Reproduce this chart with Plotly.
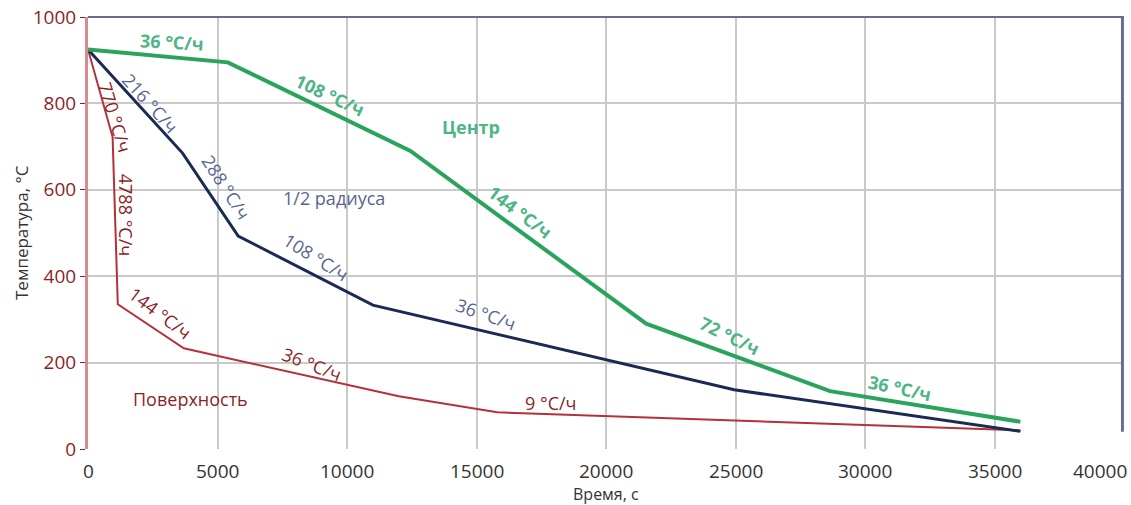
import plotly.graph_objects as go

# Data (time in s, temperature in °C)
center_t = [0, 5400, 12450, 21550, 28650, 36000]
center_T = [925, 895, 690, 290, 134, 63]

half_t = [0, 3650, 5800, 11000, 24950, 36000]
half_T = [925, 685, 493, 333, 137, 41]

surf_t = [0, 950, 1150, 3700, 12000, 15800, 36000]
surf_T = [925, 722, 335, 233, 122, 85, 43]

x_ticks = [0, 5000, 10000, 15000, 20000, 25000, 30000, 35000, 40000]
y_ticks = [0, 200, 400, 600, 800, 1000]

X_TITLE = "Время, с"
Y_TITLE = "Температура, °С"

GREEN_LINE = "#2aa45c"
GREEN_TXT = "#4fb587"
BLUE_LINE = "#1b2a55"
BLUE_TXT = "#56658f"
RED_LINE = "#b3313a"
RED_TXT = "#8c1f26"

fig = go.Figure()
fig.add_trace(go.Scatter(x=surf_t, y=surf_T, mode="lines",
                         line=dict(color=RED_LINE, width=2), name="Поверхность"))
fig.add_trace(go.Scatter(x=half_t, y=half_T, mode="lines",
                         line=dict(color=BLUE_LINE, width=3), name="1/2 радиуса"))
fig.add_trace(go.Scatter(x=center_t, y=center_T, mode="lines",
                         line=dict(color=GREEN_LINE, width=4), name="Центр"))

# Labels: (text, x, y, angle, color, bold)
labels = [
    ("36 °C/ч", 3250, 943, 3, GREEN_TXT, True),
    ("108 °C/ч", 9340, 820, 25, GREEN_TXT, True),
    ("Центр", 14780, 745, 0, GREEN_TXT, True),
    ("144 °C/ч", 16680, 548, 37, GREEN_TXT, True),
    ("72 °C/ч", 24800, 262, 26, GREEN_TXT, True),
    ("36 °C/ч", 31350, 141, 12, GREEN_TXT, True),
    ("216 °C/ч", 2400, 800, 48, BLUE_TXT, False),
    ("288 °C/ч", 5330, 606, 57, BLUE_TXT, False),
    ("1/2 радиуса", 9500, 582, 0, BLUE_TXT, False),
    ("108 °C/ч", 8800, 444, 32, BLUE_TXT, False),
    ("36 °C/ч", 15360, 312, 19, BLUE_TXT, False),
    ("770 °C/ч", 1040, 768, 73, RED_TXT, False),
    ("4788 °C/ч", 1470, 542, 90, RED_TXT, False),
    ("144 °C/ч", 2780, 314, 37, RED_TXT, False),
    ("36 °C/ч", 8650, 197, 21, RED_TXT, False),
    ("Поверхность", 3940, 116, 0, RED_TXT, False),
    ("9 °C/ч", 17880, 106, 0, RED_TXT, False),
]
for text, x, y, ang, col, bold in labels:
    fig.add_annotation(x=x, y=y, xref="x", yref="y", text=f"<b>{text}</b>" if bold else text,
                       showarrow=False, textangle=ang,
                       font=dict(family="Open Sans", size=18, color=col))

# x tick labels (last one kept inside the page, as in the original)
for i, v in enumerate(x_ticks):
    last = i == len(x_ticks) - 1
    fig.add_annotation(x=v, y=0, xref="x", yref="y", text=str(v), showarrow=False,
                       xanchor="right" if last else "center", yanchor="top",
                       yshift=-8, xshift=4 if last else 0, borderpad=0,
                       font=dict(family="Open Sans", size=19, color="#333"))

# axis titles
fig.add_annotation(x=0.5, y=0, xref="paper", yref="paper", text=X_TITLE, showarrow=False,
                   xanchor="center", yanchor="top", yshift=-33, borderpad=0,
                   font=dict(family="Open Sans", size=16, color="#333"))
fig.add_annotation(x=0, y=0.5, xref="paper", yref="paper", text=Y_TITLE, showarrow=False,
                   xanchor="center", yanchor="middle", xshift=-67, textangle=-90,
                   font=dict(family="Open Sans", size=17, color="#333"))

# frame: top and right border lines
fig.add_shape(type="line", xref="paper", yref="paper", x0=0, x1=1, y0=1, y1=1,
              line=dict(color="#6b6b8c", width=2), layer="above")
fig.add_shape(type="line", xref="paper", yref="paper", x0=0.9985, x1=0.9985, y0=1, y1=0.04,
              line=dict(color="#6b6b8c", width=3), layer="above")

fig.update_layout(
    width=1131, height=505,
    margin=dict(l=88, r=7, t=17, b=56),
    paper_bgcolor="white", plot_bgcolor="white",
    showlegend=False,
    font=dict(family="Open Sans", size=18, color="#333"),
    xaxis=dict(range=[0, 40000], tickvals=x_ticks, showticklabels=False,
               showgrid=True, gridcolor="#c9c9c9", gridwidth=2, zeroline=False,
               showline=False, ticks="", automargin=False),
    yaxis=dict(range=[0, 1000], tickvals=y_ticks, ticktext=[str(v) for v in y_ticks],
               showgrid=True, gridcolor="#c9c9c9", gridwidth=2, zeroline=False,
               showline=True, linecolor="#d98a8f", linewidth=3,
               ticks="outside", ticklen=5, tickcolor="#8c1f26",
               tickfont=dict(size=19, color="#8c1f26"), automargin=False,
               ticklabeloverflow="allow"),
)

fig.write_html("out.html", post_script="document.body.style.margin='0';",
               config={"displayModeBar": False})
